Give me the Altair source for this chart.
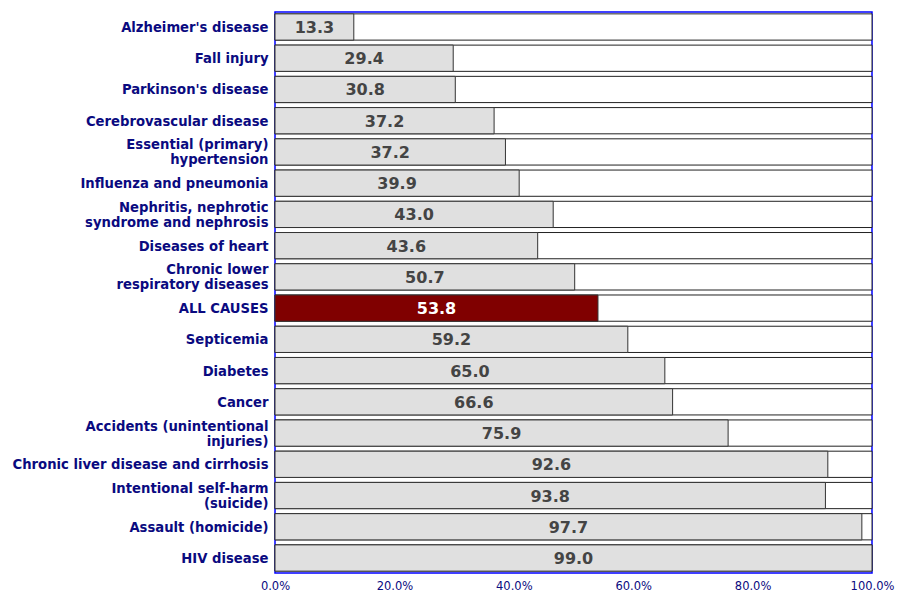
import altair as alt
import pandas as pd

causes = [
    "Alzheimer's disease",
    "Fall injury",
    "Parkinson's disease",
    "Cerebrovascular disease",
    "Essential (primary)|hypertension",
    "Influenza and pneumonia",
    "Nephritis, nephrotic|syndrome and nephrosis",
    "Diseases of heart",
    "Chronic lower|respiratory diseases",
    "ALL CAUSES",
    "Septicemia",
    "Diabetes",
    "Cancer",
    "Accidents (unintentional|injuries)",
    "Chronic liver disease and cirrhosis",
    "Intentional self-harm|(suicide)",
    "Assault (homicide)",
    "HIV disease",
]
# bar lengths as drawn (percent)
bar_pct = [13.2, 29.85, 30.2, 36.7, 38.6, 40.9, 46.6, 44.0, 50.2, 54.1,
           59.1, 65.3, 66.6, 75.9, 92.6, 92.2, 98.3, 100.0]
# printed value labels
label_vals = [13.3, 29.4, 30.8, 37.2, 37.2, 39.9, 43.0, 43.6, 50.7, 53.8,
              59.2, 65.0, 66.6, 75.9, 92.6, 93.8, 97.7, 99.0]
x_ticks = [0, 20, 40, 60, 80, 100]

df = pd.DataFrame({"cause": causes, "bar": bar_pct, "lbl": label_vals})
df["full"] = 100.0
df["hl"] = df["cause"] == "ALL CAUSES"

y_enc = alt.Y(
    "cause:N",
    sort=causes,
    title=None,
    scale=alt.Scale(paddingInner=0.16, paddingOuter=0.06),
    axis=alt.Axis(
        labelExpr="split(datum.label, '|')",
        labelFont="DejaVu Sans",
        labelFontWeight="bold",
        labelFontSize=13.2,
        labelLineHeight=15,
        labelColor="#0a0a80",
        labelPadding=7,
        labelLimit=400,
        labelOffset=alt.condition("indexof(datum.value, '|') >= 0", alt.value(-6.5), alt.value(1)),
        ticks=False,
        domain=False,
    ),
)

x_scale = alt.Scale(domain=[0, 100], nice=False, zero=True)
x_axis = alt.Axis(
    values=x_ticks,
    labelExpr="format(datum.value, '.1f') + '%'",
    labelFont="DejaVu Sans",
    labelFontSize=11.5,
    labelColor="#0a0a80",
    labelPadding=7,
    labelFlush=False,
    grid=False,
    ticks=False,
    domain=False,
    title=None,
)

bg = alt.Chart(df).mark_bar(fill="white", stroke="#222222", strokeWidth=1).encode(
    y=y_enc,
    x=alt.X("full:Q", scale=x_scale, axis=x_axis),
)

fg = alt.Chart(df).mark_bar(stroke="#333333", strokeWidth=1).encode(
    y=alt.Y("cause:N", sort=causes),
    x=alt.X("bar:Q", scale=x_scale),
    color=alt.condition("datum.hl", alt.value("#800000"), alt.value("#e0e0e0")),
)

txt = alt.Chart(df).transform_calculate(mid="datum.bar / 2").mark_text(
    font="DejaVu Sans", fontWeight="bold", fontSize=16, baseline="middle", align="center", dy=1
).encode(
    y=alt.Y("cause:N", sort=causes),
    x=alt.X("mid:Q", scale=x_scale),
    text=alt.Text("lbl:Q", format=".1f"),
    color=alt.condition("datum.hl", alt.value("#ffffff"), alt.value("#444444")),
)

chart = (
    alt.layer(bg, fg, txt)
    .properties(
        width=597,
        height=561,
        autosize=alt.AutoSizeParams(type="none"),
        padding={"left": 267, "top": 4, "right": 23, "bottom": 20},
    )
    .configure_view(stroke="#0000ff", strokeWidth=1.5)
)

chart.save("out.html", embed_options={"renderer": "svg", "actions": False})
